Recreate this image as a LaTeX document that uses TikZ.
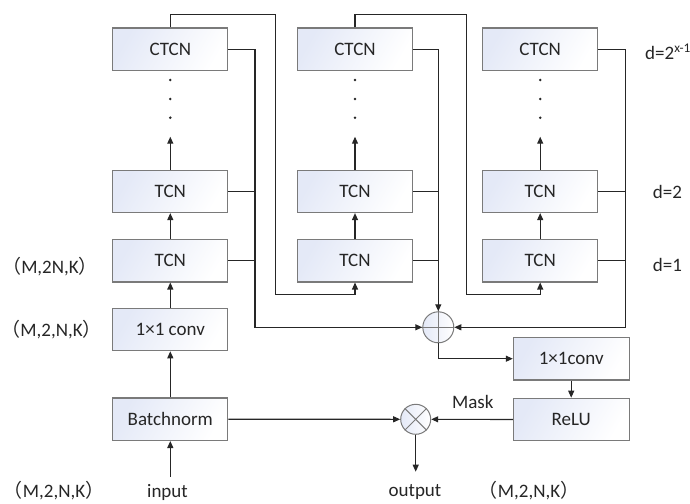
\documentclass[tikz,border=0pt]{standalone}
\usepackage{fontspec}
\setmainfont{Carlito}
\newfontfamily\cjk{Noto Sans CJK SC}
\usetikzlibrary{arrows.meta,calc}
\definecolor{boxline}{HTML}{7A7A7A}
\definecolor{conline}{HTML}{262626}
\definecolor{boxfill}{HTML}{E4E9F7}
\begin{document}
\begin{tikzpicture}[x=1pt,y=-1pt,
  font=\fontsize{19}{21}\selectfont,
  blk/.style={draw=boxline,line width=1.1pt,minimum width=115pt,minimum height=42.5pt,inner sep=0pt,
    left color=boxfill,right color=white,shading angle=60,text=black!85},
  con/.style={draw=conline,line width=1.1pt},
  arr/.style={con,-{Triangle[length=7pt,width=6pt]}},
  sumnode/.style={circle,draw=boxline,line width=1pt,minimum size=31pt,inner sep=0pt,
    left color=boxfill,right color=white},
  lbl/.style={inner sep=0pt,text=black!85}
]
\useasboundingbox (0,0) rectangle (690,503);
% column 1
\node[blk] (a3) at (170.3,49.3) {CTCN};
\node[blk] (a2) at (170.3,191.3) {TCN};
\node[blk] (a1) at (170.3,260.7) {TCN};
\node[blk] (cv1) at (170.3,329.5) {1×1 conv};
\node[blk] (bn) at (170.3,419.2) {Batchnorm};
% column 2
\node[blk] (b3) at (355,49.3) {CTCN};
\node[blk] (b2) at (355,191.3) {TCN};
\node[blk] (b1) at (355,260.7) {TCN};
% column 3
\node[blk] (c3) at (540.2,49.3) {CTCN};
\node[blk] (c2) at (540.2,191.3) {TCN};
\node[blk] (c1) at (540.2,260.7) {TCN};
% right part
\node[blk,minimum width=115.7pt] (cv2) at (571.2,358.7) {1×1conv};
\node[blk,minimum width=115.7pt] (relu) at (571.2,419.5) {ReLU};
\node[sumnode] (plus) at (438.3,327.3) {};
\draw[draw=boxline,line width=1pt] (plus.north) -- (plus.south) (plus.west) -- (plus.east);
\node[sumnode,minimum size=30pt] (times) at (415.7,419.3) {};
\draw[draw=boxline,line width=1pt] (times.north east) -- (times.south west) (times.north west) -- (times.south east);
% dots
\foreach \c in {170.3,355,540.2}{
  \foreach \y in {80,99,117.7}{\fill[conline] (\c,\y) circle (1.4pt);}
}
\coordinate (t1) at (170.3,136.7);
\coordinate (t2) at (355,136.7);
\coordinate (t3) at (540.2,136.7);
\draw[arr] (a2.north) -- (t1);
\draw[arr] (b2.north) -- (t2);
\draw[arr] (c2.north) -- (t3);
\draw[arr] (a1.north) -- (a2.south);
\draw[arr] (b1.north) -- (b2.south);
\draw[arr] (c1.north) -- (c2.south);
\draw[arr] (cv1.north) -- (a1.south);
\draw[arr] (bn.north) -- (cv1.south);
\coordinate (in) at (170.3,476.7);
\draw[arr] (in) -- (bn.south);
% column 1 outputs
\draw[arr] (a3.east) -- (255,49.3) |- (plus.west);
\draw[con] (a2.east) -- (255,191.3);
\draw[con] (a1.east) -- (255,260.7);
% column 2 outputs
\draw[arr] (b3.east) -| (plus.north);
\draw[con] (b2.east) -- (plus.north |- b2.east);
\draw[con] (b1.east) -- (plus.north |- b1.east);
% column 3 outputs
\draw[arr] (c3.east) -- (625.7,49.3) |- (plus.east);
\draw[con] (c2.east) -- (625.7,191.3);
\draw[con] (c1.east) -- (625.7,260.7);
% skip links
\draw[arr] (a3.north) |- (275.7,14.3) -- (275.7,294.3) -| (b1.south);
\draw[arr] (b3.north) |- (466.7,14.3) -- (466.7,294.3) -| (c1.south);
% tail
\draw[arr] (plus.south) |- (cv2.west);
\draw[arr] (cv2.south) -- (relu.north);
\draw[arr] (relu.west) -- (times.east);
\draw[arr] (bn.east) -- (times.west);
\coordinate (out) at (415.7,471.7);
\draw[arr] (times.south) -- (out);
% labels
\node[lbl] at (50,266.7) {{\cjk（}M,2N,K{\cjk）}};
\node[lbl] at (51.5,330) {{\cjk（}M,2,N,K{\cjk）}};
\node[lbl] at (54,490.5) {{\cjk（}M,2,N,K{\cjk）}};
\node[lbl] at (529,490.5) {{\cjk（}M,2,N,K{\cjk）}};
\node[lbl] at (167.5,492.5) {input};
\node[lbl] at (415,492.5) {output};
\node[lbl] at (472.8,401.7) {Mask};
\node[lbl,anchor=west] at (645,51.7) {d=2\textsuperscript{x-1}};
\node[lbl] at (667.5,191.7) {d=2};
\node[lbl] at (667.5,265) {d=1};
\end{tikzpicture}
\end{document}
